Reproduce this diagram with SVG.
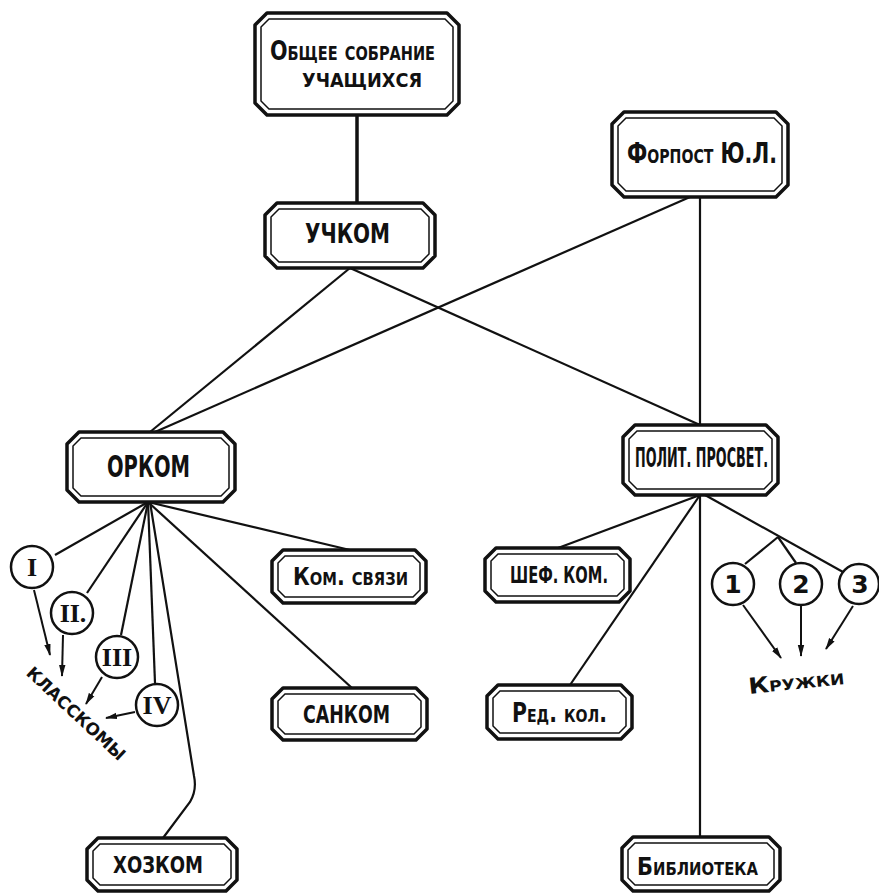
<svg xmlns="http://www.w3.org/2000/svg" width="879" height="894" viewBox="0 0 879 894">
  <defs>
    <marker id="arr" viewBox="0 0 12 8" refX="11" refY="4" markerWidth="12" markerHeight="8" markerUnits="userSpaceOnUse" orient="auto">
      <path d="M0,0.8 L12,4 L0,7.2 Z" fill="#111"/>
    </marker>
    <style>
      .outer { fill: #fff; stroke: #111; stroke-width: 3.5; stroke-linejoin: round; }
      .inner { fill: none; stroke: #111; stroke-width: 1.5; }
      .lbl { font-family: 'DejaVu Sans Condensed', 'DejaVu Sans', 'Liberation Sans', sans-serif; font-weight: bold; fill: #111; text-anchor: middle; }
      .sc { font-variant: small-caps; }
      .rom { font-family: 'Liberation Serif', 'DejaVu Serif', serif; font-weight: bold; fill: #111; text-anchor: middle; font-size: 26px; }
      .num { font-family: 'DejaVu Sans', 'Liberation Sans', sans-serif; font-weight: bold; fill: #111; text-anchor: middle; font-size: 25px; }
      .ring { fill: #fff; stroke: #111; stroke-width: 2.5; }
      .ln { fill: none; stroke: #111; stroke-width: 2.2; }
      .ar { fill: none; stroke: #111; stroke-width: 2; marker-end: url(#arr); }
    </style>
  </defs>
  <rect width="879" height="894" fill="#fff"/>

  <g id="connectors">
    <path class="ln" d="M357,115 V203" style="stroke-width:3.5"/>
    <path class="ln" d="M350,268 L150,432"/>
    <path class="ln" d="M350,268 L700,425"/>
    <path class="ln" d="M690,197 L155,432"/>
    <path class="ln" d="M700,197 V425"/>
    <!-- Orkom fan -->
    <path class="ln" d="M148,502 L55,555"/>
    <path class="ln" d="M148,502 L87,593"/>
    <path class="ln" d="M148,502 L121,635"/>
    <path class="ln" d="M148,502 L155,683"/>
    <path class="ln" d="M150,502 L194,776 Q197,790 190,802 L163,838"/>
    <path class="ln" d="M148,502 L350,550"/>
    <path class="ln" d="M148,502 L352,688"/>
    <!-- Polit fan -->
    <path class="ln" d="M700,495 L558,548"/>
    <path class="ln" d="M700,495 L570,685"/>
    <path class="ln" d="M700,495 V837"/>
    <path class="ln" d="M705,495 L843,572"/>
    <path class="ln" d="M778,537 L745,564"/>
    <path class="ln" d="M778,537 L796,563"/>
    <!-- arrows to class committees -->
    <path class="ar" d="M34,590 L50,655"/>
    <path class="ar" d="M63,635 L62,676"/>
    <path class="ar" d="M102,677 L86,704"/>
    <path class="ar" d="M135,712 L106,718"/>
    <!-- arrows to circles -->
    <path class="ar" d="M743,605 L781,658"/>
    <path class="ar" d="M801,606 L801,656"/>
    <path class="ar" d="M853,606 L826,649"/>
  </g>

  <g id="obshchee-sobranie">
    <polygon class="outer" points="267,13 447,13 459,25 459,103 447,115 267,115 255,103 255,25"/>
    <polygon class="inner" points="269,19 445,19 453,27 453,101 445,109 269,109 261,101 261,27"/>
    <text class="lbl sc" x="352.5" y="60" font-size="27" textLength="165" lengthAdjust="spacingAndGlyphs">Общее собрание</text>
    <text class="lbl" x="362" y="87" font-size="20" textLength="120" lengthAdjust="spacingAndGlyphs">УЧАЩИХСЯ</text>
  </g>

  <g id="forpost">
    <polygon class="outer" points="624,112 776,112 788,124 788,185 776,197 624,197 612,185 612,124"/>
    <polygon class="inner" points="626,118 774,118 782,126 782,183 774,191 626,191 618,183 618,126"/>
    <text class="lbl sc" x="702" y="163" font-size="29" textLength="150" lengthAdjust="spacingAndGlyphs">Форпост Ю.Л.</text>
  </g>

  <g id="uchkom">
    <polygon class="outer" points="277,203 423,203 435,215 435,256 423,268 277,268 265,256 265,215"/>
    <polygon class="inner" points="279,209 421,209 429,217 429,254 421,262 279,262 271,254 271,217"/>
    <text class="lbl" x="347.5" y="243" font-size="27" textLength="85" lengthAdjust="spacingAndGlyphs">УЧКОМ</text>
  </g>

  <g id="orkom">
    <polygon class="outer" points="79,432 223,432 235,444 235,490 223,502 79,502 67,490 67,444"/>
    <polygon class="inner" points="81,438 221,438 229,446 229,488 221,496 81,496 73,488 73,446"/>
    <text class="lbl" x="148.5" y="477" font-size="30" textLength="83" lengthAdjust="spacingAndGlyphs">ОРКОМ</text>
  </g>

  <g id="polit-prosvet">
    <polygon class="outer" points="635,425 766,425 778,437 778,483 766,495 635,495 623,483 623,437"/>
    <polygon class="inner" points="637,431 764,431 772,439 772,481 764,489 637,489 629,481 629,439"/>
    <text class="lbl" x="701.5" y="467" font-size="26" textLength="133" lengthAdjust="spacingAndGlyphs">ПОЛИТ. ПРОСВЕТ.</text>
  </g>

  <g id="kom-svyazi">
    <polygon class="outer" points="283,550 415,550 426,561 426,592 415,603 283,603 272,592 272,561"/>
    <polygon class="inner" points="285,556 413,556 420,563 420,590 413,597 285,597 278,590 278,563"/>
    <text class="lbl sc" x="350.5" y="585" font-size="25" textLength="115" lengthAdjust="spacingAndGlyphs">Ком. связи</text>
  </g>

  <g id="sankom">
    <polygon class="outer" points="283,688 416,688 427,699 427,729 416,740 283,740 272,729 272,699"/>
    <polygon class="inner" points="285,694 414,694 421,701 421,727 414,734 285,734 278,727 278,701"/>
    <text class="lbl" x="346.5" y="723" font-size="25" textLength="87" lengthAdjust="spacingAndGlyphs">САНКОМ</text>
  </g>

  <g id="shef-kom">
    <polygon class="outer" points="496,548 619,548 630,559 630,591 619,602 496,602 485,591 485,559"/>
    <polygon class="inner" points="498,554 617,554 624,561 624,589 617,596 498,596 491,589 491,561"/>
    <text class="lbl" x="559" y="583" font-size="23" textLength="98" lengthAdjust="spacingAndGlyphs">ШЕФ. КОМ.</text>
  </g>

  <g id="red-kol">
    <polygon class="outer" points="498,685 621,685 632,696 632,728 621,739 498,739 487,728 487,696"/>
    <polygon class="inner" points="500,691 619,691 626,698 626,726 619,733 500,733 493,726 493,698"/>
    <text class="lbl sc" x="559.5" y="722" font-size="26" textLength="95" lengthAdjust="spacingAndGlyphs">Ред. кол.</text>
  </g>

  <g id="khozkom">
    <polygon class="outer" points="98,838 226,838 237,849 237,880 226,891 98,891 87,880 87,849"/>
    <polygon class="inner" points="100,844 224,844 231,851 231,878 224,885 100,885 93,878 93,851"/>
    <text class="lbl" x="158" y="873" font-size="23" textLength="90" lengthAdjust="spacingAndGlyphs">ХОЗКОМ</text>
  </g>

  <g id="biblioteka">
    <polygon class="outer" points="633,837 769,837 780,848 780,880 769,891 633,891 622,880 622,848"/>
    <polygon class="inner" points="635,843 767,843 774,850 774,878 767,885 635,885 628,878 628,850"/>
    <text class="lbl sc" x="697.5" y="875" font-size="24" textLength="121" lengthAdjust="spacingAndGlyphs">Библиотека</text>
  </g>

  <g id="klass-1">
    <circle class="ring" cx="32" cy="567" r="21"/>
    <text class="rom" x="32" y="576">I</text>
  </g>
  <g id="klass-2">
    <circle class="ring" cx="72" cy="613" r="21"/>
    <text class="rom" x="73" y="622">II.</text>
  </g>
  <g id="klass-3">
    <circle class="ring" cx="117" cy="657" r="21"/>
    <text class="rom" x="117" y="666">III</text>
  </g>
  <g id="klass-4">
    <circle class="ring" cx="157" cy="705" r="21"/>
    <text class="rom" x="157" y="714">IV</text>
  </g>
  <text id="klasskomy" class="lbl" x="0" y="0" font-size="17" textLength="128" lengthAdjust="spacingAndGlyphs" transform="translate(72,718) rotate(43)">КЛАССКОМЫ</text>

  <g id="kruzhok-1">
    <circle class="ring" cx="733" cy="584" r="21"/>
    <text class="num" x="733" y="593">1</text>
  </g>
  <g id="kruzhok-2">
    <circle class="ring" cx="801" cy="584" r="21"/>
    <text class="num" x="801" y="593">2</text>
  </g>
  <g id="kruzhok-3">
    <circle class="ring" cx="859" cy="584" r="20"/>
    <text class="num" x="860" y="593">3</text>
  </g>
  <text id="kruzhki" class="lbl sc" x="0" y="0" font-size="22" textLength="96" lengthAdjust="spacingAndGlyphs" transform="translate(797,689) rotate(-6)">Кружки</text>
</svg>
